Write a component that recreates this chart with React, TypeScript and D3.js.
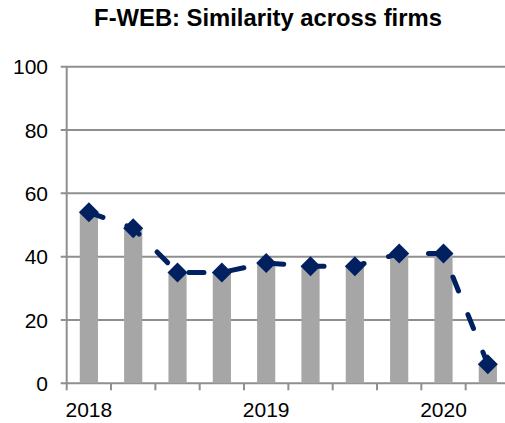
import React from "react";
import * as d3 from "d3";

const categories = ["2018-Q1", "2018-Q2", "2018-Q3", "2018-Q4", "2019-Q1", "2019-Q2", "2019-Q3", "2019-Q4", "2020-Q1", "2020-Q2"];
const tickLabels = ["2018", "", "", "", "2019", "", "", "", "2020", ""];
const barValues = [54, 49, 35, 35, 38, 37, 37, 41, 41, 6];
const lineValues = [54, 49, 35, 35, 38, 37, 37, 41, 41, 6];
const yTicks = [0, 20, 40, 60, 80, 100];
const title = "F-WEB: Similarity across firms";

const W = 505;
const H = 423;
const left = 66.7;
const right = 510;
const top = 66.7;
const bottom = 383.3;
const font = "'Liberation Sans', Arial, sans-serif";
const gridColor = "#8f8f8f";
const navy = "#002060";
const barColor = "#a6a6a6";

export default function App() {
  const x = d3.scaleBand<string>().domain(categories).range([left, right]).paddingInner(0.59).paddingOuter(0.295);
  const y = d3.scaleLinear().domain([0, 100]).range([bottom, top]);
  const step = x.step();
  const cx = (c: string) => (x(c) as number) + x.bandwidth() / 2;
  const line = d3
    .line<number>()
    .x((_, i) => cx(categories[i]))
    .y((d) => y(d));
  const diamond = "M0,-10L10,0L0,10L-10,0Z";
  const boundaries = d3.range(categories.length + 1).map((i) => left + i * step);

  return (
    <svg width={W} height={H} style={{ position: "absolute", left: 0, top: 0, background: "#fff" }}>
      <text x={268} y={26} textAnchor="middle" fontFamily={font} fontWeight="bold" fontSize={23.8} fill="#000">
        {title}
      </text>
      {yTicks.map((t) => (
        <g key={t}>
          <line x1={left - 6} x2={W + 10} y1={y(t)} y2={y(t)} stroke={gridColor} strokeWidth={2} />
          <text x={48} y={y(t)} dy="0.36em" textAnchor="end" fontFamily={font} fontSize={21} fill="#000">
            {t}
          </text>
        </g>
      ))}
      <line x1={left} x2={left} y1={top} y2={bottom} stroke={gridColor} strokeWidth={2} />
      {boundaries.map((b, i) => (
        <line key={i} x1={b} x2={b} y1={bottom} y2={bottom + 7} stroke={gridColor} strokeWidth={2} />
      ))}
      {categories.map((c, i) => (
        <rect key={c} x={x(c)} y={y(barValues[i])} width={x.bandwidth()} height={bottom - y(barValues[i])} fill={barColor} />
      ))}
      <path
        d={line(lineValues) || ""}
        fill="none"
        stroke={navy}
        strokeWidth={5}
        strokeDasharray="15 25.4"
        strokeLinecap="round"
        strokeLinejoin="round"
      />
      {lineValues.map((v, i) => (
        <path key={i} d={diamond} transform={`translate(${cx(categories[i])},${y(v)})`} fill={navy} />
      ))}
      {categories.map((c, i) =>
        tickLabels[i] ? (
          <text key={c} x={cx(c)} y={417} textAnchor="middle" fontFamily={font} fontSize={21} fill="#000">
            {tickLabels[i]}
          </text>
        ) : null
      )}
    </svg>
  );
}
